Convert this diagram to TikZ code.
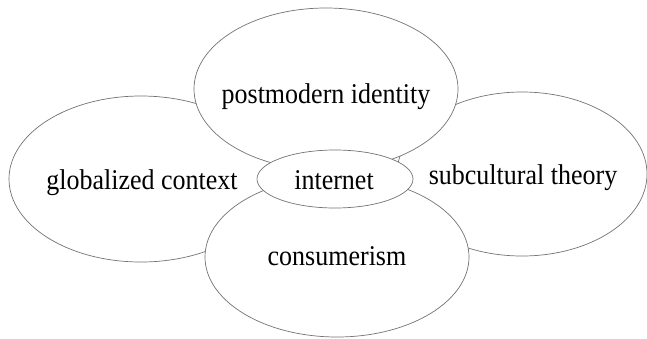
\documentclass[tikz,border=0pt]{standalone}
\usepackage{fontspec}
\setmainfont{Liberation Serif}
\usetikzlibrary{shapes.geometric}
\tikzset{
  blob/.style={ellipse, draw=black!55, line width=0.7pt, fill=white, inner sep=0pt},
  lbl/.style={anchor=base, inner sep=0pt, font=\fontsize{26}{31}\selectfont}
}
\newcommand{\stxt}[1]{\scalebox{1}[1.1]{#1}}
\begin{document}
\begin{tikzpicture}[x=1pt,y=-1pt]
\useasboundingbox (0,0) rectangle (647,338);
\node[blob, minimum width=264pt, minimum height=166pt] (left) at (141,179) {};
\node[blob, minimum width=250pt, minimum height=164pt] (right) at (522,174) {};
\node[blob, minimum width=264pt, minimum height=162pt] (top) at (326,89) {};
\node[blob, minimum width=264pt, minimum height=160pt] (bottom) at (337,257) {};
\node[blob, minimum width=156pt, minimum height=58pt] (inet) at (335,179) {};
\node[lbl] (toplbl) at (326,103) {\stxt{postmodern identity}};
\node[lbl] (leftlbl) at (142,189) {\stxt{globalized context}};
\node[lbl] (rightlbl) at (523,184) {\stxt{subcultural theory}};
\node[lbl] (botlbl) at (337,265) {\stxt{consumerism}};
\node[lbl] (inetlbl) at (334,189) {\stxt{internet}};
\end{tikzpicture}
\end{document}
